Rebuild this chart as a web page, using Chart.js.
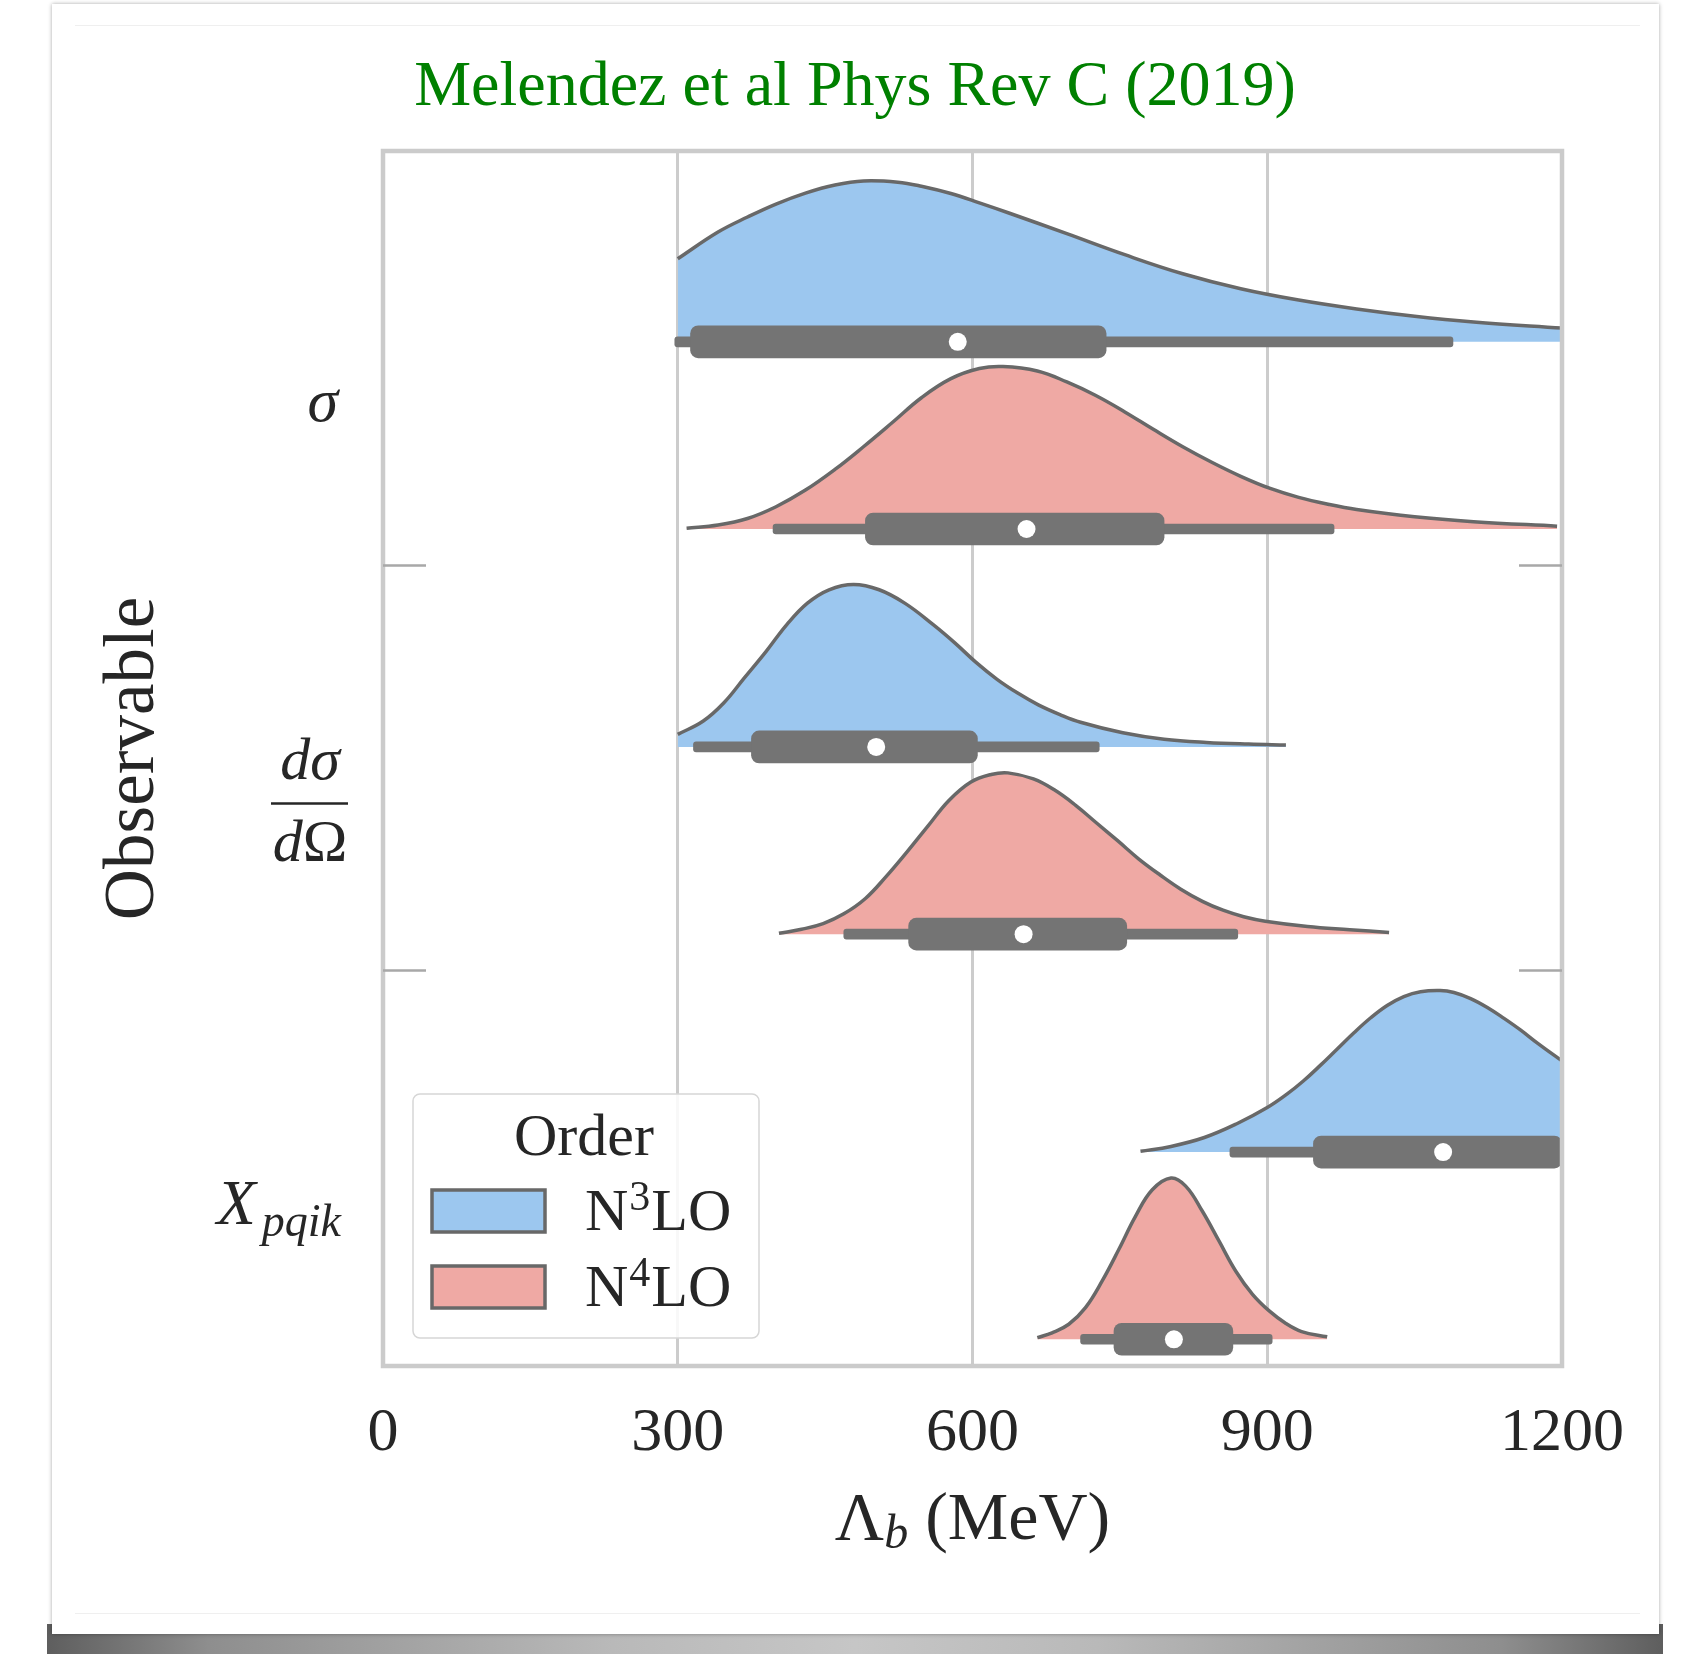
<!DOCTYPE html>
<html lang="en">
<head>
  <meta charset="UTF-8">
  <title>Melendez et al Phys Rev C (2019)</title>
  <script src="https://cdn.jsdelivr.net/npm/chart.js"></script>
  <style>
    html, body { margin: 0; padding: 0; background: #fff; }
    body { width: 1681px; height: 1654px; position: relative; overflow: hidden; }
    #shadow {
      position: absolute; left: 47px; top: 1624px; width: 1616px; height: 30px;
      background: linear-gradient(to right, #5e5e5e 0%, #8e8e8e 10%, #b9b9b9 35%, #c6c6c6 50%, #b9b9b9 65%, #8e8e8e 90%, #5e5e5e 100%);
    }
    #card {
      position: absolute; left: 52px; top: 4px; width: 1607px; height: 1630px;
      background: #fff; box-shadow: 0 0 4px rgba(0, 0, 0, 0.35);
    }
    .rule { position: absolute; left: 23px; width: 1565px; height: 1px; background: #efefef; }
    #chart { position: absolute; left: 0; top: 0; }
  </style>
</head>
<body>
  <div id="shadow"></div>
  <div id="card">
    <div class="rule" style="top:21px"></div>
    <div class="rule" style="top:1609px"></div>
  </div>
  <canvas id="chart" width="1681" height="1654"></canvas>

  <script>
    // categories / series / ticks
    const CATEGORIES = ['σ', 'dσ/dΩ', 'X_pqik'];
    const ORDERS = ['N³LO', 'N⁴LO'];
    const X_TICKS = [0, 300, 600, 900, 1200];

    // half-violin outlines: Lambda_b (MeV) and density height (in category units)
    const SIGMA_N3LO_X = [300, 341, 371, 400, 430, 460, 489, 524, 548, 578, 607, 637, 696, 755, 814, 873, 932, 991, 1050, 1110, 1200];
    const SIGMA_N3LO_H = [0.205, 0.271, 0.308, 0.340, 0.367, 0.387, 0.397, 0.394, 0.384, 0.366, 0.343, 0.318, 0.267, 0.215, 0.168, 0.131, 0.103, 0.081, 0.063, 0.049, 0.034];
    const SIGMA_N4LO_X = [309, 341, 371, 400, 430, 460, 489, 519, 548, 578, 607, 631, 666, 696, 725, 755, 784, 814, 844, 873, 903, 932, 962, 991, 1050, 1110, 1195];
    const SIGMA_N4LO_H = [0.002, 0.010, 0.026, 0.055, 0.096, 0.147, 0.203, 0.264, 0.324, 0.371, 0.396, 0.401, 0.390, 0.363, 0.330, 0.289, 0.246, 0.203, 0.164, 0.130, 0.100, 0.078, 0.061, 0.048, 0.030, 0.018, 0.007];
    const DSIG_N3LO_X = [300, 326, 347, 368, 390, 411, 432, 454, 479, 505, 531, 560, 582, 603, 625, 646, 667, 689, 710, 753, 795, 838, 881, 919];
    const DSIG_N3LO_H = [0.031, 0.064, 0.109, 0.171, 0.236, 0.302, 0.355, 0.388, 0.401, 0.388, 0.355, 0.302, 0.257, 0.210, 0.167, 0.133, 0.104, 0.080, 0.061, 0.035, 0.019, 0.011, 0.007, 0.005];
    const DSIG_N4LO_X = [403, 426, 448, 469, 491, 512, 534, 555, 576, 598, 619, 636, 662, 684, 705, 726, 748, 769, 791, 812, 834, 855, 876, 898, 941, 984, 1024];
    const DSIG_N4LO_H = [0.002, 0.012, 0.026, 0.050, 0.088, 0.142, 0.205, 0.268, 0.330, 0.375, 0.394, 0.398, 0.383, 0.355, 0.318, 0.275, 0.230, 0.186, 0.146, 0.111, 0.081, 0.059, 0.043, 0.032, 0.019, 0.011, 0.004];
    const XPQIK_N3LO_X = [771, 802, 836, 869, 900, 920, 937, 954, 971, 988, 1005, 1022, 1039, 1056, 1076, 1090, 1107, 1124, 1141, 1158, 1175, 1200];
    const XPQIK_N3LO_H = [0.002, 0.014, 0.036, 0.070, 0.110, 0.143, 0.176, 0.214, 0.254, 0.294, 0.331, 0.362, 0.384, 0.396, 0.399, 0.394, 0.379, 0.357, 0.330, 0.301, 0.269, 0.225];
    const XPQIK_N4LO_X = [666, 681, 698, 715, 732, 749, 766, 783, 802, 817, 834, 851, 868, 885, 902, 919, 935, 961];
    const XPQIK_N4LO_H = [0.004, 0.016, 0.037, 0.078, 0.144, 0.222, 0.304, 0.369, 0.398, 0.378, 0.316, 0.242, 0.168, 0.111, 0.070, 0.039, 0.019, 0.006];

    // box stats: [whisker low, q1, median, q3, whisker high]
    const SIGMA_N3LO_BOX = [297, 313, 585, 736, 1089];
    const SIGMA_N4LO_BOX = [397, 491, 655, 795, 968];
    const DSIG_N3LO_BOX = [316, 375, 502, 605, 729];
    const DSIG_N4LO_BOX = [469, 535, 652, 757, 870];
    const XPQIK_N3LO_BOX = [862, 947, 1079, 1200, 1200];
    const XPQIK_N4LO_BOX = [710, 744, 805, 865, 905];

    const FONT = '"Liberation Serif", "DejaVu Serif", serif';
    const INK = '#262626';
    const FILLS = ['#9cc7ef', '#efa9a4'];
    const OUTLINE = '#686868';
    const BOXGRAY = '#747474';
    const ORDER_OFFSETS = [-0.052, 0.41];  // baseline of each order within a category
    const LABEL_OFFSET = 0.09;

    const violins = [
      { cat: 0, ord: 0, x: SIGMA_N3LO_X, h: SIGMA_N3LO_H, box: SIGMA_N3LO_BOX },
      { cat: 0, ord: 1, x: SIGMA_N4LO_X, h: SIGMA_N4LO_H, box: SIGMA_N4LO_BOX },
      { cat: 1, ord: 0, x: DSIG_N3LO_X, h: DSIG_N3LO_H, box: DSIG_N3LO_BOX },
      { cat: 1, ord: 1, x: DSIG_N4LO_X, h: DSIG_N4LO_H, box: DSIG_N4LO_BOX },
      { cat: 2, ord: 0, x: XPQIK_N3LO_X, h: XPQIK_N3LO_H, box: XPQIK_N3LO_BOX },
      { cat: 2, ord: 1, x: XPQIK_N4LO_X, h: XPQIK_N4LO_H, box: XPQIK_N4LO_BOX }
    ];

    const datasets = [];
    violins.forEach(v => {
      const base = v.cat + ORDER_OFFSETS[v.ord];
      datasets.push({
        type: 'line',
        label: CATEGORIES[v.cat] + ' ' + ORDERS[v.ord],
        data: v.x.map((m, j) => ({ x: m, y: base - v.h[j] })),
        fill: { value: base },
        backgroundColor: FILLS[v.ord],
        borderColor: OUTLINE,
        borderWidth: 3.5,
        pointRadius: 0,
        tension: 0.4,
        order: 4
      });
      // whisker
      datasets.push({
        type: 'bar', indexAxis: 'y', grouped: false,
        data: [{ x: [v.box[0], v.box[4]], y: base }],
        backgroundColor: BOXGRAY, barThickness: 10, borderRadius: 3, borderSkipped: false,
        order: 3
      });
      // interquartile box
      datasets.push({
        type: 'bar', indexAxis: 'y', grouped: false,
        data: [{ x: [v.box[1], v.box[3]], y: base }],
        backgroundColor: BOXGRAY, barThickness: 32, borderRadius: 8, borderSkipped: false,
        order: 2
      });
      // median
      datasets.push({
        type: 'scatter',
        data: [{ x: v.box[2], y: base }],
        pointRadius: 9, pointBackgroundColor: '#fff', pointBorderWidth: 0,
        order: 1
      });
    });

    const isUpright = ch => /[\u0391-\u03A9]/.test(ch);

    // draw a math-ish string: latin / lowercase greek italic, uppercase greek upright
    function mathWidth(ctx, text, size) {
      let w = 0;
      [...text].forEach(ch => {
        ctx.font = (isUpright(ch) ? '' : 'italic ') + size + 'px ' + FONT;
        w += ctx.measureText(ch).width;
      });
      return w;
    }

    function drawMath(ctx, text, x, y, size, align) {
      const w = mathWidth(ctx, text, size);
      let cx = align === 'right' ? x - w : align === 'center' ? x - w / 2 : x;
      ctx.textAlign = 'left';
      [...text].forEach(ch => {
        ctx.font = (isUpright(ch) ? '' : 'italic ') + size + 'px ' + FONT;
        ctx.fillText(ch, cx, y);
        cx += ctx.measureText(ch).width;
      });
      return w;
    }

    const SUPERS = { '¹': '1', '²': '2', '³': '3', '⁴': '4', '⁵': '5' };
    function drawWithSupers(ctx, text, x, y, size) {
      let cx = x;
      ctx.textAlign = 'left';
      for (const ch of text) {
        if (SUPERS[ch]) {
          ctx.font = Math.round(size * 0.7) + 'px ' + FONT;
          ctx.fillText(SUPERS[ch], cx + 1, y - size * 0.33);
          cx += ctx.measureText(SUPERS[ch]).width + 2;
        } else {
          ctx.font = size + 'px ' + FONT;
          ctx.fillText(ch, cx, y);
          cx += ctx.measureText(ch).width;
        }
      }
    }

    const decorations = {
      id: 'decorations',
      afterDatasetsDraw(chart) {
        const { ctx, chartArea: a, scales: { y } } = chart;
        ctx.save();
        // frame
        ctx.strokeStyle = '#cbcbcb';
        ctx.lineWidth = 4.5;
        ctx.strokeRect(a.left, a.top, a.right - a.left, a.bottom - a.top);
        // inward ticks at category boundaries, both sides
        ctx.strokeStyle = '#a8a8a8';
        ctx.lineWidth = 2.5;
        y.ticks.forEach(t => {
          const py = y.getPixelForValue(t.value);
          ctx.beginPath();
          ctx.moveTo(a.left, py); ctx.lineTo(a.left + 43, py);
          ctx.moveTo(a.right - 43, py); ctx.lineTo(a.right, py);
          ctx.stroke();
        });

        // legend
        const lx = a.left + 30, ly = a.bottom - 272, lw = 346, lh = 244;
        ctx.beginPath();
        ctx.roundRect(lx, ly, lw, lh, 7);
        ctx.fillStyle = 'rgba(255,255,255,0.85)';
        ctx.fill();
        ctx.strokeStyle = '#d6d6d6';
        ctx.lineWidth = 1.5;
        ctx.stroke();
        ctx.fillStyle = INK;
        ctx.textBaseline = 'alphabetic';
        ctx.textAlign = 'center';
        ctx.font = '60px ' + FONT;
        ctx.fillText('Order', lx + lw / 2 - 2, ly + 61);
        ORDERS.forEach((name, i) => {
          const sy = ly + 96 + i * 76;
          ctx.fillStyle = FILLS[i];
          ctx.fillRect(lx + 19, sy, 113, 42);
          ctx.strokeStyle = OUTLINE;
          ctx.lineWidth = 3.5;
          ctx.strokeRect(lx + 19, sy, 113, 42);
          ctx.fillStyle = INK;
          drawWithSupers(ctx, name, lx + 172, sy + 40, 60);
        });
        ctx.restore();
      },
      afterDraw(chart) {
        const { ctx, chartArea: a, scales: { y } } = chart;
        ctx.save();
        ctx.fillStyle = INK;
        ctx.strokeStyle = INK;
        ctx.textBaseline = 'alphabetic';
        const rx = a.left - 42;

        // category labels
        CATEGORIES.forEach((label, k) => {
          const py = y.getPixelForValue(k + LABEL_OFFSET);
          if (label.includes('/')) {
            const [num, den] = label.split('/');
            const barY = py - 1;
            const cx = rx - 31;
            ctx.lineWidth = 2.5;
            ctx.beginPath();
            ctx.moveTo(rx - 70, barY); ctx.lineTo(rx + 7, barY);
            ctx.stroke();
            drawMath(ctx, num, cx, barY - 24, 60, 'center');
            drawMath(ctx, den, cx, barY + 58, 60, 'center');
          } else if (label.includes('_')) {
            const [main, sub] = label.split('_');
            const sw = mathWidth(ctx, sub, 46);
            drawMath(ctx, sub, rx, py + 26, 46, 'right');
            drawMath(ctx, main, rx - sw - 6, py + 14, 64, 'right');
          } else {
            drawMath(ctx, label, rx - 3, py + 22, 62, 'right');
          }
        });

        // y axis title
        ctx.save();
        ctx.translate(134, (a.top + a.bottom) / 2);
        ctx.rotate(-Math.PI / 2);
        ctx.textAlign = 'center';
        ctx.textBaseline = 'middle';
        ctx.font = '71px ' + FONT;
        ctx.fillText('Observable', 0, 0);
        ctx.restore();

        // x axis title: Λ_b (MeV)
        const title = 'Λ_b (MeV)';
        const m = title.match(/^(.*?)_(\w+)(.*)$/);
        const w1 = mathWidth(ctx, m[1], 68);
        const w2 = mathWidth(ctx, m[2], 48);
        ctx.font = '68px ' + FONT;
        const w3 = ctx.measureText(m[3]).width;
        const tx = (a.left + a.right) / 2 - (w1 + w2 + w3) / 2;
        const by = a.bottom + 173;
        drawMath(ctx, m[1], tx, by, 68, 'left');
        drawMath(ctx, m[2], tx + w1, by + 9, 48, 'left');
        ctx.font = '68px ' + FONT;
        ctx.textAlign = 'left';
        ctx.fillText(m[3], tx + w1 + w2, by);
        ctx.restore();
      }
    };

    Chart.defaults.font.family = FONT;

    const chart = new Chart(document.getElementById('chart'), {
      type: 'line',
      data: { datasets },
      options: {
        responsive: false,
        animation: false,
        events: [],
        layout: { padding: { left: 148, right: 119, top: 0, bottom: 0 } },
        plugins: {
          legend: { display: false },
          tooltip: { enabled: false },
          title: {
            display: true,
            text: 'Melendez et al Phys Rev C (2019)',
            color: '#008000',
            font: { family: FONT, size: 64, weight: 'normal' },
            padding: { top: 50, bottom: 24.2 }
          }
        },
        scales: {
          x: {
            type: 'linear',
            min: X_TICKS[0],
            max: X_TICKS[X_TICKS.length - 1],
            afterBuildTicks: s => { s.ticks = X_TICKS.map(v => ({ value: v })); },
            afterFit: s => { s.height = 288; },
            border: { display: false },
            grid: { color: '#cccccc', lineWidth: 3, drawTicks: false },
            ticks: {
              color: INK, font: { family: FONT, size: 62 }, padding: 31, maxRotation: 0,
              callback: v => String(v)
            }
          },
          y: {
            type: 'linear',
            reverse: true,
            offset: false,
            min: -0.523,
            max: 2.476,
            afterBuildTicks: s => { s.ticks = CATEGORIES.slice(1).map((_, i) => ({ value: i + 0.5 })); },
            afterFit: s => { s.width = 235; },
            border: { display: false },
            grid: { display: false, offset: false },
            ticks: { display: false }
          }
        }
      },
      plugins: [decorations]
    });
  </script>
</body>
</html>
